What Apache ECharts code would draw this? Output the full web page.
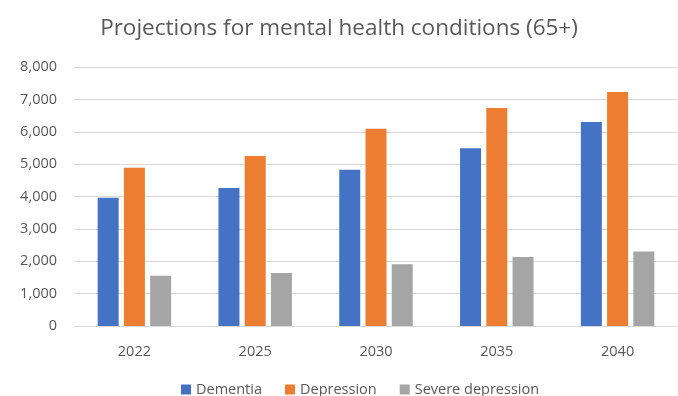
<!DOCTYPE html>
<html>
<head>
<meta charset="utf-8">
<script src="https://cdn.jsdelivr.net/npm/echarts@6/dist/echarts.min.js"></script>
<style>
  html, body { margin: 0; padding: 0; background: #fff; }
  #chart { width: 678px; height: 396px; }
</style>
</head>
<body>
<div id="chart"></div>
<script>
// Projected number of people aged 65+ with each condition
const years = ['2022', '2025', '2030', '2035', '2040'];
const dementia = [3960, 4260, 4830, 5490, 6300];
const depression = [4890, 5250, 6090, 6730, 7230];
const severeDepression = [1550, 1640, 1910, 2130, 2300];
const yTicks = { min: 0, max: 8000, interval: 1000 };

const font = '"Open Sans", "Noto Sans", sans-serif';
const textColor = '#595959';

const chart = echarts.init(document.getElementById('chart'), null, { renderer: 'canvas' });

function barSeries(name, data, color) {
  return {
    name: name,
    type: 'bar',
    data: data,
    barWidth: 21,
    barGap: '25%',
    itemStyle: { color: color },
    emphasis: { disabled: true }
  };
}

chart.setOption({
  animation: false,
  title: {
    text: 'Projections for mental health conditions (65+)',
    left: 334,
    textAlign: 'center',
    top: 12,
    textStyle: { fontFamily: font, fontSize: 22.5, fontWeight: 'normal', color: textColor }
  },
  legend: {
    top: 377,
    left: 176,
    itemWidth: 10,
    itemHeight: 10,
    itemGap: 23,
    icon: 'rect',
    textStyle: { fontFamily: font, fontSize: 14.5, color: textColor }
  },
  grid: { left: 74, right: -7, top: 67, bottom: 70 },
  xAxis: {
    type: 'category',
    data: years,
    axisLine: { lineStyle: { color: '#d9d9d9', width: 1 } },
    axisTick: { show: false },
    axisLabel: { fontFamily: font, fontSize: 14.5, color: textColor, margin: 18 }
  },
  yAxis: {
    type: 'value',
    min: yTicks.min,
    max: yTicks.max,
    interval: yTicks.interval,
    axisLine: { show: false },
    axisTick: { show: false },
    splitLine: { lineStyle: { color: '#d9d9d9', width: 1 } },
    axisLabel: {
      fontFamily: font, fontSize: 14.5, color: textColor, margin: 17,
      formatter: v => v.toLocaleString('en-US')
    }
  },
  series: [
    barSeries('Dementia', dementia, '#4472C4'),
    barSeries('Depression', depression, '#ED7D31'),
    barSeries('Severe depression', severeDepression, '#A5A5A5')
  ]
});
</script>
</body>
</html>
